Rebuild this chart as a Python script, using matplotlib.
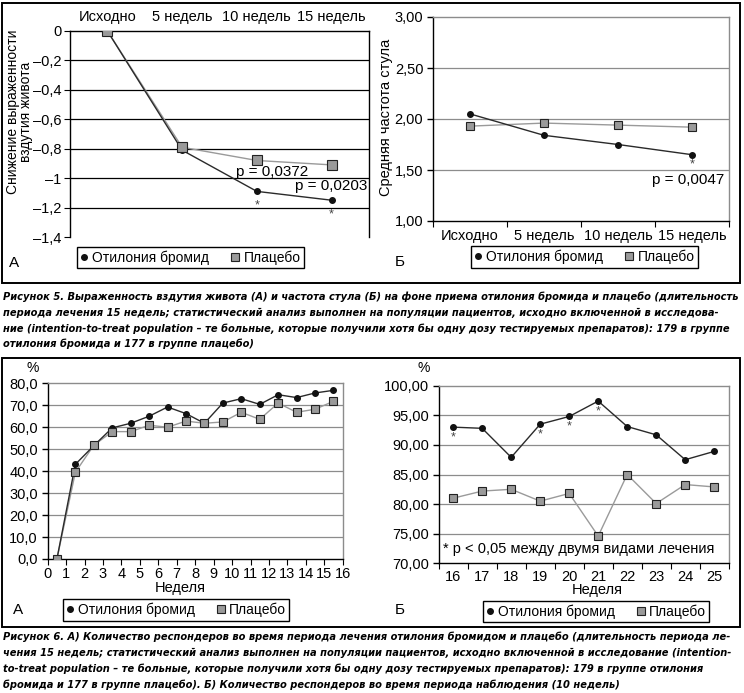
import matplotlib
matplotlib.use("Agg")
import matplotlib.pyplot as plt
from matplotlib import font_manager as fm
from matplotlib.lines import Line2D
from matplotlib.patches import Rectangle

# --- data -------------------------------------------------------------
periods = ["Исходно", "5 недель", "10 недель", "15 недель"]
bloating_oti = [0, -0.81, -1.09, -1.15]
bloating_pla = [0, -0.79, -0.88, -0.91]
bloating_ticks = [0, -0.2, -0.4, -0.6, -0.8, -1.0, -1.2, -1.4]
bloating_labels = ["0", "–0,2", "–0,4", "–0,6", "–0,8", "–1", "–1,2", "–1,4"]

stool_oti = [2.05, 1.84, 1.75, 1.65]
stool_pla = [1.93, 1.96, 1.94, 1.92]
stool_ticks = [1.0, 1.5, 2.0, 2.5, 3.0]
stool_labels = ["1,00", "1,50", "2,00", "2,50", "3,00"]

treat_weeks = [0.5, 1.5, 2.5, 3.5, 4.5, 5.5, 6.5, 7.5,
               8.5, 9.5, 10.5, 11.5, 12.5, 13.5, 14.5, 15.5]
treat_oti = [0, 43.1, 51.6, 59.7, 61.8, 65.0, 69.2, 66.2,
             61.8, 71.0, 73.0, 70.4, 74.8, 73.5, 75.6, 76.8]
treat_pla = [0, 39.5, 51.8, 58.0, 58.0, 60.9, 60.0, 62.8,
             61.8, 62.4, 66.8, 63.6, 71.0, 66.8, 68.2, 71.8]
treat_ticks = [0, 10, 20, 30, 40, 50, 60, 70, 80]
treat_labels = ["0,0", "10,0", "20,0", "30,0", "40,0", "50,0", "60,0", "70,0", "80,0"]

follow_weeks = ["16", "17", "18", "19", "20", "21", "22", "23", "24", "25"]
follow_oti = [93.0, 92.8, 87.9, 93.5, 94.8, 97.4, 93.1, 91.7, 87.5, 88.9]
follow_pla = [81.0, 82.2, 82.5, 80.5, 81.8, 74.6, 85.0, 80.1, 83.3, 82.9]
follow_sig = ["16", "19", "20", "21"]
follow_ticks = [70, 75, 80, 85, 90, 95, 100]
follow_labels = ["70,00", "75,00", "80,00", "85,00", "90,00", "95,00", "100,00"]

legend_labels = ["Отилония бромид", "Плацебо"]

caption5 = [
    "Рисунок 5. Выраженность вздутия живота (А) и частота стула (Б) на фоне приема отилония бромида и плацебо (длительность",
    "периода лечения 15 недель; статистический анализ выполнен на популяции пациентов, исходно включенной в исследова-",
    "ние (intention-to-treat population – те больные, которые получили хотя бы одну дозу тестируемых препаратов): 179 в группе",
    "отилония бромида и 177 в группе плацебо)",
]
caption6 = [
    "Рисунок 6. А) Количество респондеров во время периода лечения отилония бромидом и плацебо (длительность периода ле-",
    "чения 15 недель; статистический анализ выполнен на популяции пациентов, исходно включенной в исследование (intention-",
    "to-treat population – те больные, которые получили хотя бы одну дозу тестируемых препаратов): 179 в группе отилония",
    "бромида и 177 в группе плацебо). Б) Количество респондеров во время периода наблюдения (10 недель)",
]

# --- layout helpers (pixel coords, y from top) -------------------------
W, H = 744, 693
plt.rcParams["font.family"] = ["Liberation Sans", "DejaVu Sans"]
plt.rcParams["font.size"] = 10

DARK = "#2a2a2a"
GREY = "#9a9a9a"
FRAME = "#8c8c8c"


def box(x0, y0, x1, y1):
    return [x0 / W, 1 - y1 / H, (x1 - x0) / W, (y1 - y0) / H]


def fx(x):
    return x / W


def fy(y):
    return 1 - y / H


def series(ax, x, oti, pla, sq=5.5):
    ax.plot(x, pla, color=GREY, lw=1.0, zorder=3)
    ax.plot(x, oti, color=DARK, lw=1.0, marker="o", ms=4, mfc="#111", mec="#111", zorder=4)
    ax.plot(x, pla, ls="none", marker="s", ms=sq, mfc=GREY, mec="#222", mew=0.8, zorder=5)


def legend(cx, cy, sq=5.5):
    handles = [
        Line2D([], [], ls="none", marker="o", ms=4, mfc="#111", mec="#111"),
        Line2D([], [], ls="none", marker="s", ms=sq, mfc=GREY, mec="#222", mew=0.8),
    ]
    leg = fig.legend(handles, legend_labels, loc="center", bbox_to_anchor=(fx(cx), fy(cy)),
                     ncol=2, frameon=True, fancybox=False, edgecolor="black", framealpha=1,
                     borderpad=0.25, handlelength=0.5, handletextpad=0.35, columnspacing=1.6,
                     fontsize=10, borderaxespad=0)
    leg.get_frame().set_linewidth(1.0)


def frame_plot(ax):
    ax.spines["top"].set_color(FRAME)
    ax.spines["right"].set_color(FRAME)
    for s in ax.spines.values():
        s.set_linewidth(1.0)
    ax.tick_params(axis="y", length=4, direction="out", width=1, pad=3)


def star(ax, x, y, dy=-10):
    ax.annotate("*", (x, y), xytext=(0, dy), textcoords="offset pixels",
                ha="center", va="center", fontsize=9, color="#444")


fig = plt.figure(figsize=(W / 100, H / 100), dpi=100)

# outer frames
for y0, y1 in [(3, 283), (358, 627)]:
    fig.patches.append(Rectangle((fx(1.5), fy(y1)), fx(740) - fx(1.5), fy(y0) - fy(y1),
                                 transform=fig.transFigure, fill=False, lw=1.4, ec="black"))

# --- Fig 5 A: bloating ---------------------------------------------------
axA = fig.add_axes(box(70, 31, 369, 237))
xa = list(range(len(periods)))
for v in bloating_ticks[1:-1]:
    axA.axhline(v, color="black", lw=0.9, zorder=1)
series(axA, xa, bloating_oti, bloating_pla, sq=6.5)
axA.set_xlim(-0.5, 3.5)
axA.set_ylim(-1.4, 0)
axA.xaxis.tick_top()
axA.set_xticks(xa)
axA.set_xticklabels(periods, fontsize=10.5)
axA.tick_params(axis="x", length=0, pad=5)
axA.set_yticks(bloating_ticks)
axA.set_yticklabels(bloating_labels, fontsize=10.5)
axA.tick_params(axis="y", length=4, direction="out", pad=2)
axA.spines["bottom"].set_visible(False)
for s in ["top", "left", "right"]:
    axA.spines[s].set_linewidth(1.0)
axA.text(2.2, -0.955, "p = 0,0372", ha="center", va="center", fontsize=11)
axA.text(3.0, -1.055, "p = 0,0203", ha="center", va="center", fontsize=11)
for i in [2, 3]:
    star(axA, xa[i], bloating_oti[i], dy=-14)
fig.text(fx(19.5), fy(112), "Снижение выраженности\nвздутия живота", rotation=90,
         ha="center", va="center", fontsize=10, linespacing=0.9)
fig.text(fx(14), fy(263), "А", ha="center", va="center", fontsize=11)
legend(190.5, 257.5, sq=6)

# --- Fig 5 Б: stool frequency -------------------------------------------
axB = fig.add_axes(box(433, 17, 729, 221))
xb = list(range(len(periods)))
for v in stool_ticks[1:-1]:
    axB.axhline(v, color=FRAME, lw=0.9, zorder=1)
series(axB, xb, stool_oti, stool_pla, sq=6)
axB.set_xlim(-0.5, 3.5)
axB.set_ylim(1, 3)
axB.set_xticks([-0.5, 0.5, 1.5, 2.5, 3.5])
axB.set_xticklabels([])
axB.set_xticks(xb, minor=True)
axB.set_xticklabels(periods, minor=True, fontsize=10.5)
axB.tick_params(axis="x", which="major", length=4, direction="out")
axB.tick_params(axis="x", which="minor", length=0, pad=6)
axB.set_yticks(stool_ticks)
axB.set_yticklabels(stool_labels, fontsize=10.5)
frame_plot(axB)
star(axB, xb[3], stool_oti[3])
axB.text(2.95, 1.405, "p = 0,0047", ha="center", va="center", fontsize=11)
fig.text(fx(386), fy(117), "Средняя частота стула", rotation=90,
         ha="center", va="center", fontsize=10.5)
fig.text(fx(400), fy(262), "Б", ha="center", va="center", fontsize=11)
legend(584.5, 257, sq=6)

# --- Fig 6 A: responders during treatment --------------------------------
axC = fig.add_axes(box(47.7, 383.3, 342.7, 559))
for v in treat_ticks[1:-1]:
    axC.axhline(v, color=FRAME, lw=0.9, zorder=1)
series(axC, treat_weeks, treat_oti, treat_pla, sq=5.5)
axC.set_xlim(0, 16)
axC.set_ylim(0, 80)
axC.set_xticks(range(17))
axC.tick_params(axis="x", length=4, direction="out", pad=2, labelsize=10.5)
axC.set_yticks(treat_ticks)
axC.set_yticklabels(treat_labels, fontsize=10.5)
frame_plot(axC)
fig.text(fx(33), fy(368), "%", ha="center", va="center", fontsize=10)
fig.text(fx(180), fy(588), "Неделя", ha="center", va="center", fontsize=10.5)
fig.text(fx(18), fy(610), "А", ha="center", va="center", fontsize=11)
legend(176, 610)

# --- Fig 6 Б: responders during follow-up --------------------------------
axD = fig.add_axes(box(438.7, 385.7, 728.7, 563.3))
xd = list(range(len(follow_weeks)))
for v in follow_ticks[1:-1]:
    axD.axhline(v, color=FRAME, lw=0.9, zorder=1)
series(axD, xd, follow_oti, follow_pla, sq=5.5)
axD.set_xlim(-0.5, 9.5)
axD.set_ylim(70, 100)
axD.set_xticks([i - 0.5 for i in range(len(follow_weeks) + 1)])
axD.set_xticklabels([])
axD.set_xticks(xd, minor=True)
axD.set_xticklabels(follow_weeks, minor=True, fontsize=10.5)
axD.tick_params(axis="x", which="major", length=4, direction="out")
axD.tick_params(axis="x", which="minor", length=0, pad=5)
axD.set_yticks(follow_ticks)
axD.set_yticklabels(follow_labels, fontsize=10.5)
frame_plot(axD)
for w in follow_sig:
    i = follow_weeks.index(w)
    star(axD, xd[i], follow_oti[i])
axD.text(-0.35, 72.4, "* p < 0,05 между двумя видами лечения", ha="left", va="center", fontsize=10.5)
fig.text(fx(424), fy(368), "%", ha="center", va="center", fontsize=10)
fig.text(fx(597), fy(590), "Неделя", ha="center", va="center", fontsize=10.5)
fig.text(fx(400), fy(610), "Б", ha="center", va="center", fontsize=11)
legend(596, 611.5)

# --- captions (condensed bold italic, sized to fit the page width) ------------
cap_family = ["Liberation Sans", "DejaVu Sans"]
cap_stretch = "normal"
try:
    cond = fm.findfont(fm.FontProperties(family="DejaVu Sans", stretch="condensed",
                                         style="oblique", weight="bold"),
                       fallback_to_default=False)
    if "Condensed" in cond:
        cap_family = ["DejaVu Sans"]
        cap_stretch = "condensed"
except Exception:
    pass

cap_texts = []
for i, line in enumerate(caption5):
    cap_texts.append(fig.text(fx(3), fy(297 + i * 15.7), line))
for i, line in enumerate(caption6):
    cap_texts.append(fig.text(fx(3), fy(637 + i * 15.8), line))
for t in cap_texts:
    t.set(family=cap_family, stretch=cap_stretch, style="italic", weight="bold",
          fontsize=8.6, ha="left", va="center")

renderer = fig.canvas.get_renderer()
widest = max(t.get_window_extent(renderer).width for t in cap_texts)
size = 8.6 * 736 / widest
for t in cap_texts:
    t.set_fontsize(size)

fig.savefig("out.png", dpi=100)
